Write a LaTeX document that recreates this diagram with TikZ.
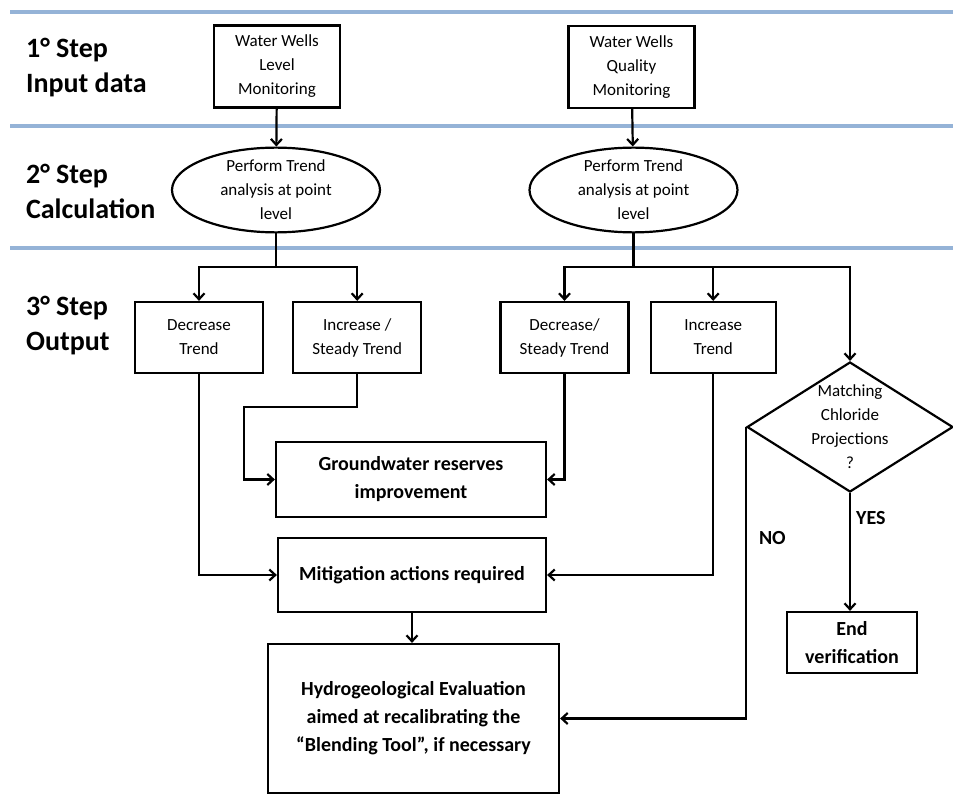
\documentclass[tikz,border=0pt]{standalone}
\usepackage{fontspec}
\setmainfont{Carlito}
\usetikzlibrary{arrows.meta,positioning,shapes.geometric}
\definecolor{azulclaro}{HTML}{95B3D7}

\begin{document}
\begin{tikzpicture}[x=1pt, y=-1pt, >={Straight Barb[length=6pt,width=11pt]}, line width=2.2pt,
  sm/.style={draw, align=center, inner sep=0pt, font=\fontsize{17}{24}\selectfont},
  box/.style={sm, minimum width=126pt, minimum height=82pt},
  tr/.style={sm, minimum width=128pt, minimum height=71pt},
  el/.style={sm, ellipse, minimum width=208pt, minimum height=80pt},
  bb/.style={draw, align=center, inner sep=0pt, font=\fontsize{20}{28}\selectfont\bfseries},
  lbl/.style={font=\fontsize{20}{24}\selectfont\bfseries, inner sep=0pt},
  steplbl/.style={anchor=north west, align=left, inner sep=0pt, font=\fontsize{28}{35}\selectfont\bfseries},
  divisor/.style={draw=azulclaro, line width=4pt}]
  \useasboundingbox (0,0) rectangle (953,794);
  % faixas
  \draw[divisor] (10,12) -- (953,12);
  \draw[divisor] (10,126) -- (953,126);
  \draw[divisor] (10,248) -- (953,248);
  \node[steplbl] (p1) at (25,37) {1° Step\\Input data};
  \node[steplbl] (p2) at (25,163) {2° Step\\Calculation};
  \node[steplbl] (p3) at (25,295) {3° Step\\Output};
  % entradas
  \node[box] (wwl) at (277,66.5) {Water Wells\\Level\\Monitoring};
  \node[box] (wwq) at (631.5,67) {Water Wells\\Quality\\Monitoring};
  \node[el] (el1) at (276,190) {Perform Trend\\analysis at point\\level};
  \node[el] (el2) at (633.5,190) {Perform Trend\\analysis at point\\level};
  \coordinate (j1) at (276,267);
  \coordinate (j2) at (633.5,267);
  % saidas
  \node[tr] (dec1) at (199,337.5) {Decrease\\Trend};
  \node[tr, right=28pt of dec1] (inc1) {Increase /\\Steady Trend};
  \node[tr] (dec2) at (564.5,337.5) {Decrease/\\Steady Trend};
  \node[tr, minimum width=125pt, right=20pt of dec2] (inc2) {Increase\\Trend};
  \node[sm, diamond, minimum width=206pt, minimum height=130pt] (dia) at (850,427) {};
  \node[sm, draw=none] (diatxt) at (dia.center) {Matching\\Chloride\\Projections\\?};
  \node[bb, minimum width=270pt, minimum height=75pt] (gw) at (411,479.5) {Groundwater reserves\\improvement};
  \node[bb, minimum width=268pt, minimum height=74pt] (mit) at (412,575) {Mitigation actions required};
  \node[bb, minimum width=291pt, minimum height=149pt] (hyd) at (413.5,718.5) {Hydrogeological Evaluation\\aimed at recalibrating the\\“Blending Tool”, if necessary};
  \node[bb, minimum width=130pt, minimum height=61pt] (endv) at (852,642.5) {End\\verification};
  \coordinate (c1) at (244,407);
  \draw[->] (wwl) -- (el1);
  \draw[->] (wwq) -- (el2);
  \draw[->] (el1.south) -- (j1) -| (dec1.north);
  \draw[->] (j1) -| (inc1.north);
  \draw[->] (el2.south) -- (j2) -| (dec2.north);
  \draw[->] (j2) -| (inc2.north);
  \draw[->] (j2) -| (dia.north);
  \draw[->] (inc1.south) |- (c1) |- (gw.west);
  \draw[->] (dec2.south) |- (gw.east);
  \draw[->] (dec1.south) |- (mit.west);
  \draw[->] (inc2.south) |- (mit.east);
  \draw[->] (mit.south) -- (mit.south |- hyd.north);
  \draw[->] (dia.west) |- node[lbl, right=12pt, pos=0.19] {NO} (hyd.east);
  \draw[->] (dia.south) -- node[lbl, right=5pt, pos=0.21] {YES} (dia.south |- endv.north);
\end{tikzpicture}
\end{document}
